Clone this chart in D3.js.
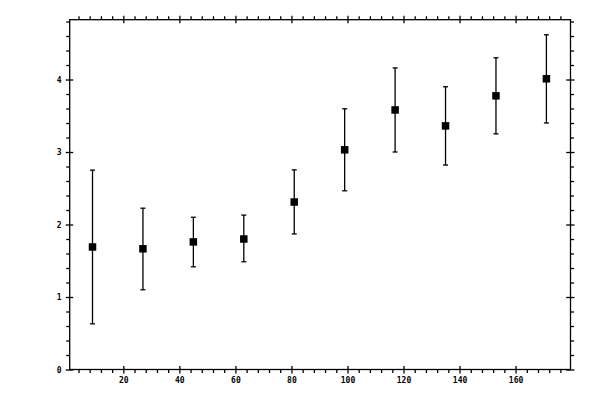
<!DOCTYPE html>
<html>
<head>
<meta charset="utf-8">
<script src="https://cdn.jsdelivr.net/npm/d3@7"></script>
<style>
  body { margin: 0; background: #fff; }
  svg { display: block; }
  .axis text { font-family: "DejaVu Sans Mono", monospace; font-size: 8px; font-weight: bold; fill: #000; }
  .axis path, .axis line { stroke: #000; stroke-width: 1.3; }
</style>
</head>
<body>
<div id="chart"></div>
<script>
// bin centres and measured means with their error bounds
const BINS = [9, 27, 45, 63, 81, 99, 117, 135, 153, 171];
const MEANS = [1.69, 1.665, 1.76, 1.8, 2.31, 3.03, 3.58, 3.36, 3.775, 4.01];
const UPPER = [2.75, 2.225, 2.1, 2.13, 2.754, 3.596, 4.16, 3.9, 4.3, 4.617];
const LOWER = [0.63, 1.1, 1.417, 1.486, 1.87, 2.465, 3.0, 2.82, 3.25, 3.4];

const X_MAJOR = [20, 40, 60, 80, 100, 120, 140, 160];
const Y_MAJOR = [0, 1, 2, 3, 4];

const width = 600;
const height = 400;

const points = BINS.map((b, i) => ({
  x: b,
  y: MEANS[i],
  hi: UPPER[i],
  lo: LOWER[i],
}));

const x = d3.scaleLinear().domain([0.86, 179.6]).range([69.7, 570.5]);
const y = d3.scaleLinear().domain([0, 4.825]).range([369.5, 19.7]);

const xMinor = d3.range(4, 180, 4).filter((v) => v % 20 !== 0);
const yMinor = d3.range(0.2, 4.82, 0.2).filter((v) => Math.abs(v - Math.round(v)) > 0.01);

const svg = d3
  .select("#chart")
  .append("svg")
  .attr("width", width)
  .attr("height", height);

const [x0, x1] = x.range();
const [y0, y1] = y.range();

// minor ticks, outside only
const minor = (axis, where) =>
  svg
    .append("g")
    .attr("class", "axis")
    .attr("transform", where)
    .call(axis.tickSize(3.5).tickFormat(""))
    .call((g) => g.select(".domain").remove());

minor(d3.axisBottom(x).tickValues(xMinor), `translate(0,${y0})`);
minor(d3.axisTop(x).tickValues(xMinor), `translate(0,${y1})`);
minor(d3.axisLeft(y).tickValues(yMinor), `translate(${x0},0)`);
minor(d3.axisRight(y).tickValues(yMinor), `translate(${x1},0)`);

// major ticks cross the frame
const major = (axis, where, inner, labels) =>
  svg
    .append("g")
    .attr("class", "axis")
    .attr("transform", where)
    .call(axis.tickSizeInner(4).tickSizeOuter(0).tickPadding(4).tickFormat(labels ? d3.format("d") : ""))
    .call((g) => g.select(".domain").remove())
    .call((g) => g.selectAll(".tick line").attr(inner[0], inner[1]));

major(d3.axisBottom(x).tickValues(X_MAJOR), `translate(0,${y0})`, ["y1", -3.5], true);
major(d3.axisTop(x).tickValues(X_MAJOR), `translate(0,${y1})`, ["y1", 3.5], false);
major(d3.axisLeft(y).tickValues(Y_MAJOR), `translate(${x0},0)`, ["x1", 3.5], true);
major(d3.axisRight(y).tickValues(Y_MAJOR), `translate(${x1},0)`, ["x1", -4.3], false);

svg
  .append("rect")
  .attr("x", x0)
  .attr("y", y1)
  .attr("width", x1 - x0)
  .attr("height", y0 - y1)
  .attr("fill", "none")
  .attr("stroke", "#000")
  .attr("stroke-width", 1.3);

const bars = svg.append("g").attr("stroke", "#000").attr("stroke-width", 1.3);

bars
  .selectAll(".err")
  .data(points)
  .join("line")
  .attr("x1", (d) => x(d.x))
  .attr("x2", (d) => x(d.x))
  .attr("y1", (d) => y(d.lo))
  .attr("y2", (d) => y(d.hi));

const cap = 2.5;
["lo", "hi"].forEach((k) => {
  bars
    .selectAll(`.cap-${k}`)
    .data(points)
    .join("line")
    .attr("x1", (d) => x(d.x) - cap)
    .attr("x2", (d) => x(d.x) + cap)
    .attr("y1", (d) => y(d[k]))
    .attr("y2", (d) => y(d[k]));
});

const s = 7.5;
svg
  .append("g")
  .selectAll("rect")
  .data(points)
  .join("rect")
  .attr("x", (d) => x(d.x) - s / 2)
  .attr("y", (d) => y(d.y) - s / 2)
  .attr("width", s)
  .attr("height", s)
  .attr("fill", "#000");
</script>
</body>
</html>
